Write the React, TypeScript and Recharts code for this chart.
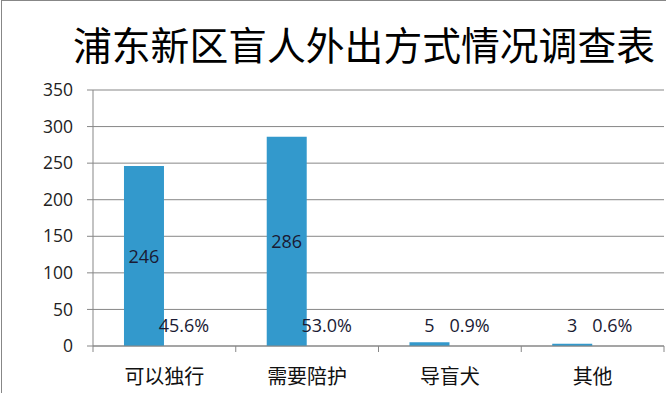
import { Bar, BarChart, CartesianGrid, LabelList, XAxis, YAxis } from "recharts";

const categories = ["可以独行", "需要陪护", "导盲犬", "其他"];
const counts = [246, 286, 5, 3];
const shares = [0.456, 0.53, 0.009, 0.006];
const yTicks = [0, 50, 100, 150, 200, 250, 300, 350];

const data = categories.map((name, i) => ({ name, count: counts[i], share: shares[i] }));

const W = 666;
const H = 393;
const X_AXIS_H = 30;
const MARGIN = { top: 90, right: 2, bottom: 47 - X_AXIS_H, left: 0 };
const Y_AXIS_W = 93;
const HALF_BAND = (W - MARGIN.left - MARGIN.right - Y_AXIS_W) / categories.length / 2;

const GRID = "#878787";
const LATIN = "'Open Sans', 'DejaVu Sans', sans-serif";
const CJK = "'Noto Sans CJK SC', sans-serif";

// label sits in the middle of tall bars, just above the baseline for tiny ones
function makeLabel(fmt: (v: number) => string) {
  return (props: any) => {
    const { x, y, width, height, value } = props;
    const cx = Number(x) + Number(width) / 2;
    const h = Number(height);
    const cy = h > 40 ? Number(y) + h / 2 : Number(y) + h - 21;
    return (
      <text x={cx} y={cy} textAnchor="middle" dominantBaseline="central"
        fontFamily={LATIN} fontSize={18} fill="#1a1a33">
        {fmt(Number(value))}
      </text>
    );
  };
}

function CategoryTick(props: any) {
  const { x, y, payload, index } = props;
  const half = payload?.offset || HALF_BAND;
  return (
    <g>
      {index === 0 && <line x1={x - half} x2={x - half} y1={y} y2={y + 6} stroke={GRID} />}
      <line x1={x + half} x2={x + half} y1={y} y2={y + 6} stroke={GRID} />
      <text x={x} y={y + 29} textAnchor="middle" dominantBaseline="central"
        fontFamily={CJK} fontSize={20} fill="#111">
        {payload.value}
      </text>
    </g>
  );
}

export default function App() {
  return (
    <div style={{ position: "absolute", left: 0, top: 0, width: W, height: H, background: "#fff" }}>
      <div style={{ position: "absolute", left: 1, top: 0, width: W, height: H,
        borderLeft: `1px solid ${GRID}`, borderTop: `1px solid ${GRID}` }} />
      <svg width={W} height={80} style={{ position: "absolute", left: 0, top: 0 }}>
        <text x={364} y={43} textAnchor="middle" dominantBaseline="central"
          fontFamily={CJK} fontSize={38.5} fill="#000" textLength={582} lengthAdjust="spacingAndGlyphs">
          浦东新区盲人外出方式情况调查表
        </text>
      </svg>
      <BarChart width={W} height={H} data={data} margin={MARGIN}
        barCategoryGap="21.7%" barGap={0}>
        <CartesianGrid vertical={false} stroke={GRID} />
        <XAxis dataKey="name" height={X_AXIS_H} axisLine={{ stroke: GRID }} tickLine={false}
          tickSize={0} tickMargin={0} tick={<CategoryTick />} interval={0} />
        <YAxis width={Y_AXIS_W} domain={[0, 350]} ticks={yTicks} interval={0}
          axisLine={{ stroke: GRID }} tickLine={{ stroke: GRID }} tickSize={6} tickMargin={14}
          tick={{ fontFamily: LATIN, fontSize: 17.5, fill: "#222" }} />
        <Bar dataKey="count" fill="#3399cc" isAnimationActive={false}>
          <LabelList dataKey="count" content={makeLabel((v) => String(v))} />
        </Bar>
        <Bar dataKey="share" fill="transparent" isAnimationActive={false}>
          <LabelList dataKey="share" content={makeLabel((v) => (v * 100).toFixed(1) + "%")} />
        </Bar>
      </BarChart>
    </div>
  );
}
